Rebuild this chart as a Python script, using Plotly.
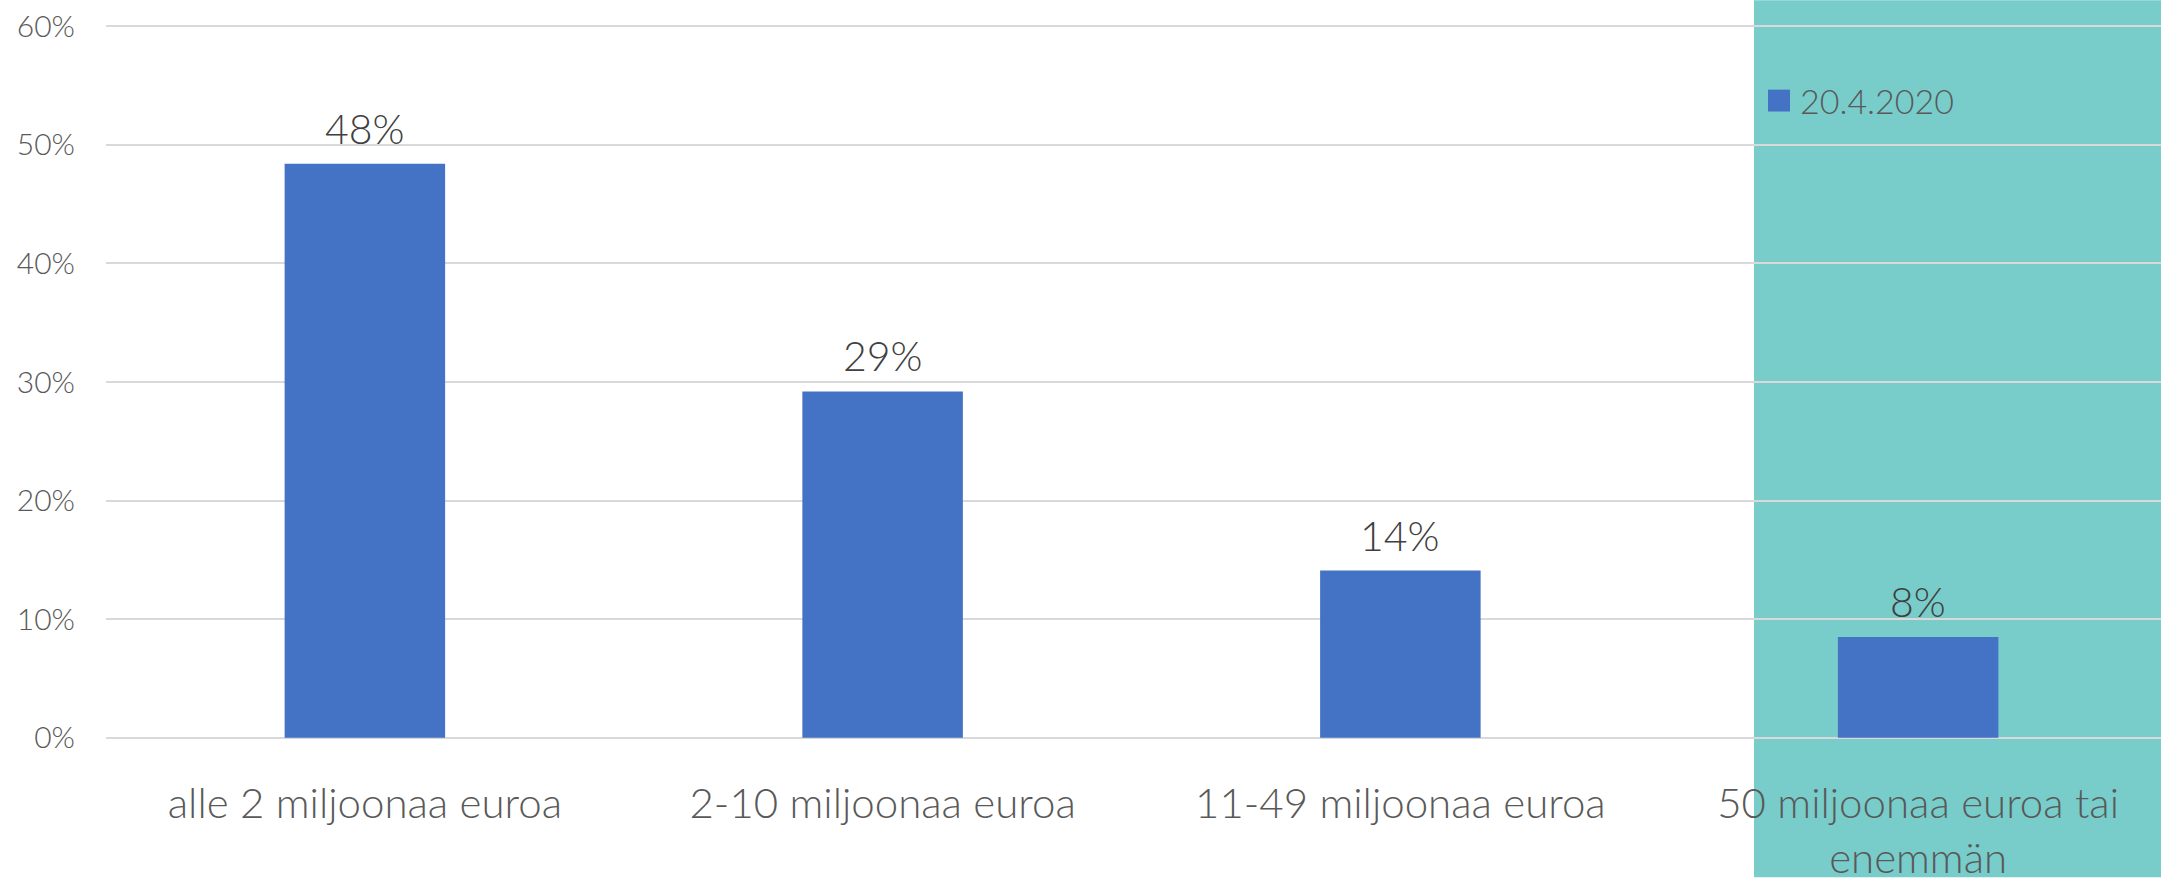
import plotly.graph_objects as go

categories = ["alle 2 miljoonaa euroa", "2-10 miljoonaa euroa", "11-49 miljoonaa euroa",
              "50 miljoonaa euroa tai<br>enemmän"]
values = [0.484, 0.292, 0.141, 0.085]
labels = ["48%", "29%", "14%", "8%"]
series_name = "20.4.2020"
y_ticks = [0, 0.1, 0.2, 0.3, 0.4, 0.5, 0.6]
y_ticktext = ["0%", "10%", "20%", "30%", "40%", "50%", "60%"]

FONT = "Lato"
BAR_COLOR = "#4472C4"
W, H = 2161, 882
ML, MR, MT, MB = 106, 0, 25, 139
pw = W - ML - MR
ph = H - MT - MB


def px(x):
    return (x - ML) / pw


def py(y):
    return 1 - (y - MT) / ph


fig = go.Figure()
fig.add_trace(go.Bar(
    x=list(range(len(categories))), y=values, name=series_name,
    marker=dict(color=BAR_COLOR, line=dict(width=0)),
    width=0.31, showlegend=False,
))

for i, (v, t) in enumerate(zip(values, labels)):
    fig.add_annotation(x=i, y=v, text=t, showarrow=False, yanchor="bottom",
                       yshift=9, font=dict(family=FONT, size=41, color="#404040", weight=300))

# teal highlight panel
fig.add_shape(type="rect", xref="paper", yref="paper",
              x0=px(1754), x1=1.0, y0=py(H), y1=py(0),
              fillcolor="#78CDCB", line=dict(width=0), layer="below")

# legend (drawn as key square + text)
fig.add_shape(type="rect", xref="paper", yref="paper",
              x0=px(1768), x1=px(1790), y0=py(112), y1=py(90),
              fillcolor=BAR_COLOR, line=dict(width=0), layer="above")
fig.add_annotation(xref="paper", yref="paper", x=px(1798), y=py(101), text=series_name,
                   showarrow=False, xanchor="left", yanchor="middle",
                   font=dict(family=FONT, size=34, color="#595959", weight=300))

fig.update_layout(
    width=W, height=H,
    margin=dict(l=ML, r=MR, t=MT, b=MB),
    paper_bgcolor="white", plot_bgcolor="rgba(0,0,0,0)",
    font=dict(family=FONT, color="#595959", weight=300),
    showlegend=False,
)
fig.update_xaxes(
    tickmode="array", tickvals=list(range(len(categories))), ticktext=categories,
    range=[-0.5, 3.5 - (2177 - 2161) / 518],
    showgrid=False, zeroline=False, showline=False, ticks="",
    tickfont=dict(family=FONT, size=42, color="#595959", weight=300),
    ticklabelstandoff=36,
)
fig.update_yaxes(
    tickmode="array", tickvals=y_ticks, ticktext=y_ticktext, range=[-0.001, 0.601],
    showgrid=True, gridcolor="#D9D9D9", gridwidth=2, zeroline=False, showline=False, ticks="",
    tickfont=dict(family=FONT, size=30, color="#595959", weight=300),
    ticklabelstandoff=30,
)
fig.write_html("out.html", config={"displayModeBar": False},
               post_script="document.body.style.margin='0';document.body.style.overflow='hidden';")
